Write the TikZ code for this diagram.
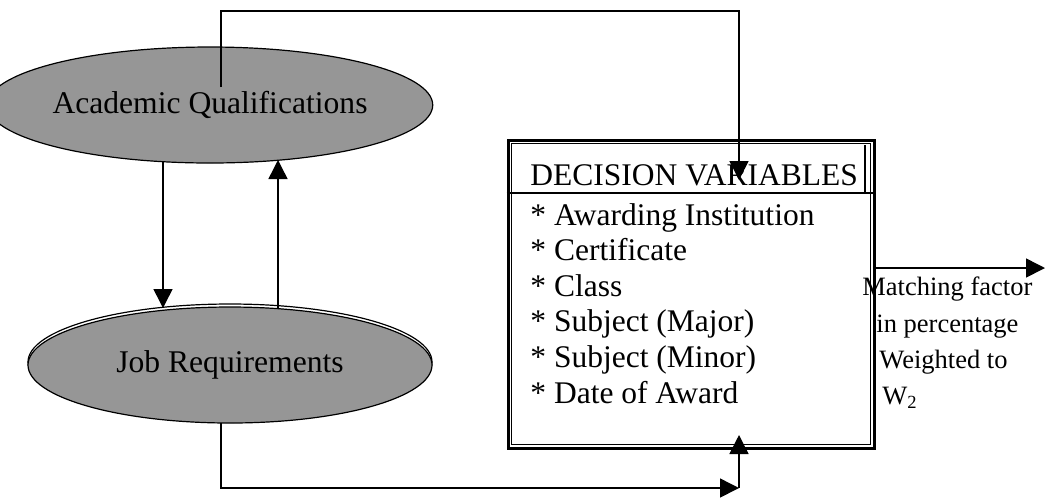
\documentclass[tikz,border=0pt]{standalone}
\usepackage{fontspec}
\setmainfont{Liberation Serif}
\usetikzlibrary{shapes.geometric,arrows.meta}
\definecolor{ovalgray}{RGB}{150,150,150}

\begin{document}
\begin{tikzpicture}[x=0.5pt,y=-0.5pt,
    oval/.style={ellipse,draw,line width=0.6pt,fill=ovalgray,minimum width=202pt,minimum height=58pt,inner sep=0pt,font=\fontsize{15.8}{19}\selectfont},
    arr/.style={-{Triangle[width=9.5pt,length=9.5pt]},line width=0.75pt},
    boxtext/.style={anchor=base west,inner sep=0pt,font=\fontsize{15.75}{19}\selectfont},
    sidetext/.style={anchor=base west,inner sep=0pt,font=\fontsize{13.25}{16}\selectfont}]
    \useasboundingbox (0,0) rectangle (1053,500);
    \node[oval] (qual) at (210,105) {Academic Qualifications};
    \draw[line width=0.6pt] (230,362) ellipse (101pt and 29pt);
    \node[oval] (job) at (230,365) {Job Requirements};
    \node[draw,line width=1.5pt,minimum width=183pt,minimum height=154pt,inner sep=0pt] (box) at (691,294) {};
    \draw[line width=0.75pt] ([shift={(5,5)}]box.north west) rectangle ([shift={(-5,-5)}]box.south east);
    \coordinate (headline) at (865,193);
    \draw[line width=0.75pt] (box.west |- headline) -- (box.east |- headline);
    \draw[line width=0.75pt] (headline) -- ++(0,-48);
    \node[boxtext] (head) at (530,185) {DECISION VARIABLES};
    \foreach \var [count=\i] in {Awarding Institution,Certificate,Class,Subject (Major),Subject (Minor),Date of Award}
      \node[boxtext] (var\i) at (530,{189.4+35.6*\i}) {* \var};
    \node[sidetext] (match1) at (862,295) {Matching factor};
    \node[sidetext] (match2) at (876,332) {in percentage};
    \node[sidetext] (match3) at (879,368) {Weighted to};
    \node[sidetext] (match4) at (882,404) {W\textsubscript{2}};
    \coordinate (qualtop) at (221,87);
    \coordinate (topturn) at (739,11);
    \coordinate (headin) at (739,180);
    \draw[arr] (qualtop) |- (topturn) -- (headin);
    \coordinate (qualdown) at (163,161);
    \coordinate (jobdown) at (163,308);
    \draw[arr] (qualdown) -- (jobdown);
    \coordinate (jobup) at (278,309);
    \coordinate (qualup) at (278,160);
    \draw[arr] (jobup) -- (qualup);
    \coordinate (jobbot) at (221,423);
    \coordinate (botturn) at (739,488);
    \coordinate (boxin) at (739,435);
    \draw[arr] (jobbot) |- (botturn);
    \draw[arr] (botturn) -- (boxin);
    \coordinate (outend) at (1045,268);
    \draw[arr] (box.east |- outend) -- (outend);
\end{tikzpicture}
\end{document}
